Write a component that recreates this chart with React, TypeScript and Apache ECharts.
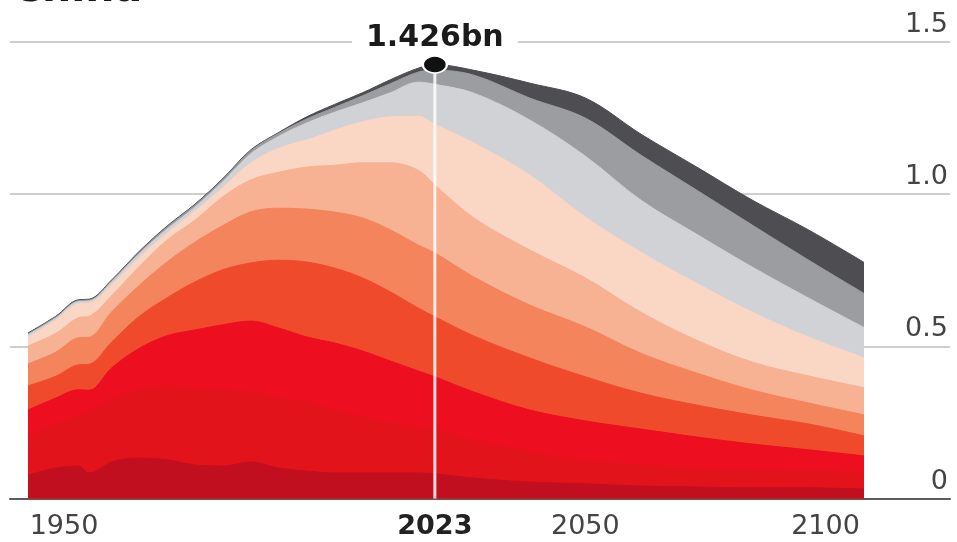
import { useEffect, useRef } from 'react';
import * as echarts from 'echarts';

// Years sampled along the time axis
const years = [1950, 1955, 1959, 1961, 1965, 1970, 1975, 1980, 1985, 1990, 1995, 2000, 2005, 2010, 2015, 2020, 2023, 2030, 2040, 2050, 2060, 2070, 2080, 2090, 2100];

// Population per age band, billions (bottom band = youngest)
const band1 = [0.077, 0.100, 0.107, 0.084, 0.120, 0.133, 0.127, 0.110, 0.107, 0.120, 0.100, 0.090, 0.084, 0.084, 0.084, 0.084, 0.081, 0.067, 0.054, 0.048, 0.041, 0.038, 0.035, 0.035, 0.031];
const band2 = [0.122, 0.141, 0.168, 0.200, 0.204, 0.223, 0.240, 0.253, 0.250, 0.230, 0.230, 0.227, 0.207, 0.184, 0.164, 0.148, 0.145, 0.125, 0.099, 0.079, 0.069, 0.062, 0.059, 0.056, 0.056];
const band3 = [0.092, 0.089, 0.082, 0.072, 0.105, 0.138, 0.168, 0.191, 0.214, 0.233, 0.230, 0.214, 0.220, 0.217, 0.204, 0.187, 0.174, 0.158, 0.138, 0.128, 0.118, 0.102, 0.085, 0.069, 0.053];
const band4 = [0.079, 0.072, 0.082, 0.085, 0.085, 0.105, 0.125, 0.158, 0.181, 0.191, 0.223, 0.246, 0.246, 0.240, 0.227, 0.207, 0.197, 0.184, 0.171, 0.145, 0.118, 0.105, 0.095, 0.085, 0.066];
const band5 = [0.072, 0.079, 0.089, 0.089, 0.099, 0.102, 0.118, 0.131, 0.145, 0.168, 0.171, 0.174, 0.184, 0.197, 0.204, 0.207, 0.210, 0.194, 0.174, 0.164, 0.131, 0.105, 0.082, 0.069, 0.069];
const band6 = [0.059, 0.062, 0.066, 0.069, 0.053, 0.062, 0.072, 0.072, 0.095, 0.105, 0.118, 0.138, 0.154, 0.181, 0.220, 0.246, 0.223, 0.194, 0.181, 0.161, 0.135, 0.108, 0.092, 0.089, 0.089];
const band7 = [0.030, 0.043, 0.046, 0.043, 0.036, 0.030, 0.023, 0.030, 0.030, 0.056, 0.079, 0.089, 0.115, 0.135, 0.151, 0.177, 0.200, 0.246, 0.246, 0.200, 0.197, 0.187, 0.164, 0.128, 0.099];
const band8 = [0.007, 0.007, 0.007, 0.007, 0.010, 0.012, 0.013, 0.013, 0.020, 0.030, 0.039, 0.056, 0.059, 0.062, 0.079, 0.112, 0.131, 0.164, 0.181, 0.200, 0.171, 0.161, 0.148, 0.128, 0.099];
const band9 = [0.003, 0.003, 0.003, 0.003, 0.003, 0.005, 0.007, 0.007, 0.007, 0.010, 0.010, 0.013, 0.016, 0.023, 0.030, 0.033, 0.046, 0.059, 0.072, 0.125, 0.148, 0.145, 0.138, 0.125, 0.112];
const band10 = [0.003, 0.003, 0.003, 0.003, 0.003, 0.003, 0.003, 0.003, 0.003, 0.003, 0.003, 0.007, 0.010, 0.010, 0.013, 0.013, 0.019, 0.016, 0.049, 0.066, 0.069, 0.076, 0.082, 0.099, 0.102];

const bandColors = ['#c20f1f', '#e3131c', '#ed0e1f', '#f04a2c', '#f4845c', '#f7b193', '#fad6c4', '#d1d2d5', '#9c9da0', '#4e4e52'];

const xTickYears = [1950, 2023, 2050, 2100];
const peakYear = 2023;
const peakValue = 1.426;
const peakLabel = '1.426bn';
const titleText = 'China';

const FONT = 'DejaVu Sans';

export default function App() {
  const ref = useRef<HTMLDivElement>(null);

  useEffect(() => {
    const chart = echarts.init(ref.current!, null, { renderer: 'svg' });
    const bands = [band1, band2, band3, band4, band5, band6, band7, band8, band9, band10];

    // Running totals: each band's upper edge is the sum of itself and every band beneath it
    const running = years.map(() => 0);
    const upperEdges = bands.map((vals) =>
      vals.map((v, j) => {
        running[j] = +(running[j] + v).toFixed(4);
        return running[j];
      })
    );

    // Each band fills from zero up to its upper edge; drawing the tallest first lets
    // every lower band paint over it, which gives the stacked layout.
    const areaSeries = upperEdges
      .map((edge, i) => ({
        type: 'line',
        name: `band${i + 1}`,
        data: years.map((y, j) => [y, edge[j]]),
        smooth: 0.35,
        symbol: 'none',
        silent: true,
        lineStyle: { width: 1, color: bandColors[i] },
        itemStyle: { color: bandColors[i] },
        areaStyle: { color: bandColors[i], opacity: 1, origin: 'start' },
        z: 2,
      }))
      .reverse();

    chart.setOption({
      animation: false,
      grid: { left: 10, right: 7, top: 42, bottom: 43.5, containLabel: false },
      xAxis: {
        type: 'value',
        min: 1946.77,
        max: 2115.43,
        splitLine: { show: false },
        axisTick: { show: false },
        axisLine: { show: true, lineStyle: { color: '#5c5c5c', width: 2 } },
        axisLabel: {
          customValues: xTickYears,
          margin: 12,
          formatter: (v: number) => {
            if (v === 1950) return `{l|${v}}`;
            if (v === 2023) return `{b|${v}}`;
            if (v === 2100) return `{r|${v}}`;
            return `{n|${v}}`;
          },
          rich: {
            n: { fontSize: 27, fontFamily: FONT, color: '#444' },
            l: { fontSize: 27, fontFamily: FONT, color: '#444', padding: [0, 0, 0, 72] },
            r: { fontSize: 27, fontFamily: FONT, color: '#444', padding: [0, 77, 0, 0] },
            b: { fontSize: 27, fontFamily: FONT, color: '#222', fontWeight: 'bold' },
          },
        },
      },
      yAxis: {
        type: 'value',
        position: 'right',
        min: 0,
        max: 1.5,
        interval: 0.5,
        axisLine: { show: false },
        axisTick: { show: false },
        splitLine: { show: true, lineStyle: { color: '#cfcfcf', width: 2 } },
        axisLabel: {
          inside: true,
          margin: 2,
          verticalAlign: 'bottom',
          padding: [0, 0, 6, 0],
          fontSize: 27,
          fontFamily: FONT,
          color: '#444',
          formatter: (v: number) => (v === 0 ? '0' : v.toFixed(1)),
        },
      },
      graphic: [
        {
          type: 'text',
          left: 12,
          top: -34,
          style: { text: titleText, fontSize: 41, fontWeight: 'bold', fontFamily: FONT, fill: '#1a1a1a' },
        },
      ],
      series: [
        ...areaSeries,
        {
          type: 'line',
          name: 'marker',
          data: [[peakYear, 0], [peakYear, peakValue]],
          symbol: 'none',
          silent: true,
          lineStyle: { color: 'rgba(255,255,255,0.85)', width: 3 },
          z: 5,
        },
        {
          type: 'scatter',
          name: 'peak',
          data: [[peakYear, peakValue]],
          symbol: 'circle',
          symbolSize: [24, 17],
          silent: true,
          itemStyle: { color: '#111', borderColor: '#fff', borderWidth: 2, opacity: 1 },
          label: {
            show: true,
            position: 'top',
            distance: 5,
            formatter: peakLabel,
            fontSize: 30,
            fontWeight: 'bold',
            fontFamily: FONT,
            color: '#1b1b1b',
            backgroundColor: '#fff',
            padding: [0, 14, 0, 14],
          },
          z: 6,
        },
      ],
    });

    return () => chart.dispose();
  }, []);

  return <div ref={ref} style={{ position: 'fixed', left: 0, top: 0, width: 957, height: 542 }} />;
}
